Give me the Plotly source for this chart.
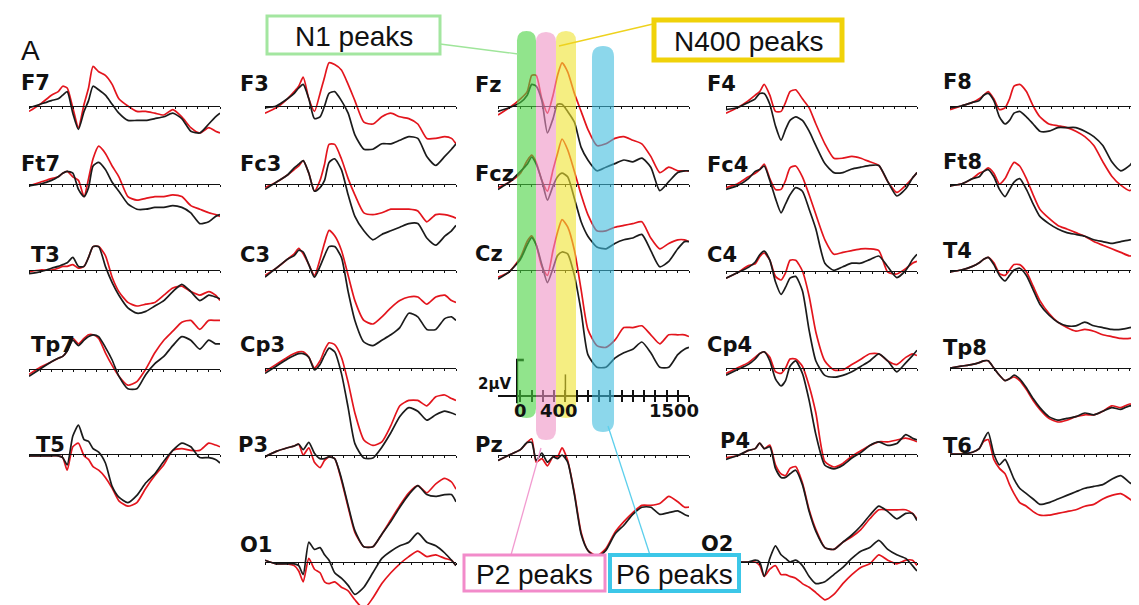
import plotly.graph_objects as go

W, H = 1139, 605
UV_PX = 18.0      # pixels per microvolt (2 uV scale bar = 36 px)
PANEL_W = 191     # pixels spanned by -200 .. 1500 ms
RED = "#e3151d"
BLACK = "#1b1b1b"

# ---------------- data (uV, negative plotted up) ----------------
TIME_MS = [-200, -100, 0, 60, 100, 140, 190, 240, 290, 330, 370, 420, 480, 540,
           600, 680, 760, 840, 920, 1000, 1080, 1160, 1240, 1320, 1400, 1460, 1500]

F7_black = [0.1,-0.1,-0.3,-0.4,-0.6,-0.8,0.4,1.3,0.3,-0.3,-1.1,-0.9,-0.6,-0.1,0.4,0.8,0.8,0.8,0.7,0.6,0.4,0.7,1.4,1.5,1.0,0.6,0.4]
F7_red = [0.3,-0.1,-0.6,-0.8,-1.1,-1.0,0.1,1.2,-0.1,-1.0,-2.2,-1.9,-1.7,-1.2,-0.4,0.0,0.3,0.3,0.4,0.5,0.2,0.6,1.2,1.5,1.2,1.4,1.5]
Ft7_black = [0.1,0,-0.2,-0.4,-0.6,-0.7,-0.6,0.3,0.7,0.2,-1.0,-1.2,-0.8,-0.1,0.4,1.1,1.4,1.4,1.3,1.3,1.2,1.3,1.6,2.2,2.1,1.8,1.7]
Ft7_red = [0.1,-0.1,-0.3,-0.4,-0.6,-0.7,-0.4,-0.2,0.7,-0.3,-1.4,-2.1,-1.7,-1.0,-0.4,0.7,0.9,0.8,0.7,0.7,0.6,0.7,1.2,1.4,1.6,1.7,1.8]
T3_black = [0.2,0.1,-0.1,-0.2,-0.3,-0.4,-0.7,-0.2,-0.2,-0.7,-1.3,-1.3,-0.2,0.7,1.4,2.1,2.4,2.3,2.0,1.7,1.2,0.8,1.2,1.7,1.4,1.5,1.6]
T3_red = [0.1,0,0,-0.1,-0.2,-0.2,-0.3,-0.1,-0.2,-0.7,-1.3,-1.3,-0.8,0.4,1.2,1.8,2.0,1.9,1.8,1.4,1.0,0.9,1.2,1.4,1.2,1.4,1.7]
Tp7_black = [0.4,0,-0.4,-0.6,-0.7,-1.0,-1.6,-1.3,-1.6,-1.8,-1.9,-1.8,-1.2,-0.5,0.4,1.1,1.1,0.3,-0.3,-0.7,-1.3,-1.8,-1.6,-1.1,-1.6,-1.4,-1.4]
Tp7_red = [0.3,-0.1,-0.4,-0.6,-0.7,-1.0,-1.7,-1.4,-1.7,-1.9,-1.9,-1.7,-0.9,-0.2,0.4,0.9,0.7,0,-0.9,-1.6,-2.1,-2.6,-2.7,-2.2,-2.7,-2.7,-2.7]
T5_black = [0.1,0.1,0.1,0.1,0.2,0.6,-1.0,-1.6,-0.8,-0.7,-0.3,-0.1,0.5,1.8,2.4,2.7,2.3,1.6,1.1,0.4,-0.2,-0.6,-0.4,0.2,0.2,0.3,0.5]
T5_red = [0.1,0.1,0.1,0.1,0.2,0.9,-0.4,-0.6,0.1,0.3,0.7,0.9,1.3,1.9,2.6,2.9,2.7,1.9,1.2,0.6,-0.2,-0.3,-0.2,-0.2,-0.6,-0.5,-0.4]

F3_black = [0.1,0,-0.4,-0.7,-1.0,-1.2,-0.4,0.7,0.6,0,-0.7,-0.8,-0.3,0.4,1.6,2.4,2.4,2.1,2.1,1.9,1.7,1.8,2.8,3.3,2.8,2.4,2.1]
F3_red = [0.4,0.1,-0.4,-0.8,-1.1,-1.6,-0.4,0.3,-0.7,-1.6,-2.4,-2.3,-2.0,-1.2,-0.3,0.9,1.0,0.6,0.4,0.6,0.7,1.0,1.8,1.8,1.7,1.8,2.1]
Fc3_black = [0.3,-0.1,-0.5,-0.9,-1.1,-1.3,-0.6,0.4,0.2,-0.2,-1.2,-1.4,-0.8,0.6,1.8,2.6,3.1,2.8,2.6,2.4,2.2,2.2,3.0,3.4,2.9,2.6,2.3]
Fc3_red = [0.2,-0.1,-0.5,-0.8,-1.0,-1.3,-0.6,0.4,-0.2,-1.1,-2.2,-2.2,-1.4,-0.3,0.6,1.6,1.7,1.6,1.4,1.4,1.4,1.5,2.1,1.7,1.7,1.8,1.9]
C3_black = [0.4,-0.1,-0.6,-0.8,-1.1,-1.0,-0.3,0.4,-0.2,-0.8,-1.3,-1.3,-0.7,1.2,2.8,4.0,4.2,3.9,3.6,3.2,2.4,2.6,3.3,3.3,2.7,2.6,2.8]
C3_red = [0.3,-0.1,-0.6,-0.9,-1.2,-0.9,-0.3,0.3,-0.6,-1.5,-2.2,-1.9,-1.1,0.3,1.7,2.8,3.0,2.6,2.1,1.7,1.5,1.5,1.9,1.5,1.4,1.7,1.8]
Cp3_black = [0.3,-0.1,-0.5,-0.7,-0.8,-0.8,-0.6,0.1,-0.2,-0.7,-1.1,-0.9,0.3,2.2,4.2,5.0,5.0,4.4,3.6,2.7,2.2,2.4,2.9,2.6,2.4,2.5,2.6]
Cp3_red = [0.2,-0.2,-0.6,-0.8,-0.9,-0.9,-0.6,0,-0.4,-1.0,-1.4,-1.3,-0.6,0.8,2.5,4.0,4.3,4.1,3.2,2.1,1.8,1.8,2.1,1.6,1.5,1.7,1.8]
P3_black = [0.1,-0.2,-0.4,-0.5,-0.6,-0.3,-0.7,-0.1,0.2,0.2,0.1,0.2,1.3,2.8,4.2,5.1,5.1,4.4,3.7,2.9,2.2,1.7,2.2,2.3,2.2,2.2,2.6]
P3_red = [0.1,-0.2,-0.4,-0.5,-0.6,0,-0.4,0.4,0.7,0.3,0.1,0.2,1.4,2.9,4.3,5.1,5.1,4.4,3.6,2.8,2.1,1.7,2.1,1.6,1.3,1.5,1.9]
O1_black = [-0.1,0.1,0.1,0.1,0.2,0.7,-1.1,-0.7,-0.8,-0.4,-0.1,0.6,0.9,1.3,1.8,1.4,0.6,-0.2,-0.6,-0.9,-1.1,-1.6,-1.1,-0.9,-0.5,-0.1,0.2]
O1_red = [-0.1,0.1,0.1,0.2,0.5,1.1,-0.2,0.4,0.6,1.1,1.2,1.1,1.4,1.6,2.1,2.6,2.0,1.2,0.6,0.1,-0.3,-0.6,-0.3,-0.4,-0.2,-0.1,0.2]

Fz_black = [0.3,0.1,-0.2,-0.6,-1.2,-1.1,-0.3,1.5,0.7,-0.1,-0.1,0.3,0.9,2.3,3.0,3.6,3.4,3.2,3.0,3.1,2.9,3.4,4.7,4.2,3.7,3.6,3.6]
Fz_red = [0.5,0.1,-0.4,-0.8,-1.7,-1.7,-0.4,0.4,-0.6,-1.7,-2.4,-1.9,-0.7,0.3,1.3,2.2,2.1,1.8,1.7,1.9,2.1,2.8,3.7,3.4,3.6,3.6,3.6]
Fcz_black = [0.3,-0.1,-0.7,-1.1,-1.5,-1.1,-0.2,0.9,0.1,-0.4,-0.6,-0.4,0.8,2.1,2.9,3.5,3.6,3.3,3.1,3.0,2.8,3.7,4.6,4.3,3.6,3.2,3.2]
Fcz_red = [0.2,-0.1,-0.6,-1.3,-1.6,-1.2,-0.2,0.4,-0.8,-1.7,-2.5,-1.9,-0.7,0.6,1.7,2.6,2.6,2.4,2.3,2.2,2.1,3.0,3.6,3.3,3.1,3.1,3.2]
Cz_black = [0.5,0.1,-0.6,-1.4,-1.8,-1.4,-0.3,0.7,-0.1,-0.8,-1.0,-0.9,0.3,2.3,4.7,5.4,5.4,4.9,4.6,4.4,4.0,4.6,5.4,5.4,4.7,4.4,4.3]
Cz_red = [0.4,0.1,-0.7,-1.6,-1.9,-1.4,-0.2,0.3,-1.1,-2.1,-2.8,-2.4,-1.1,1.1,3.3,4.2,4.3,3.9,3.2,3.2,3.1,3.6,4.1,3.6,3.6,3.6,3.7]
Pz_black = [0.3,0,-0.3,-0.7,-0.7,0.3,-0.1,0.4,0.1,0.2,0,0.4,2.2,4.4,5.3,5.7,5.3,4.4,3.9,3.3,2.9,2.9,3.3,3.2,3.1,3.3,3.4]
Pz_red = [0.3,0,-0.3,-0.7,-0.9,0.4,0.2,0.6,0.1,0.1,-0.4,0.3,2.1,4.3,5.3,5.6,5.2,4.3,3.7,3.2,2.8,2.8,2.7,2.3,2.6,2.9,2.9]

F4_black = [0.2,0.1,-0.2,-0.4,-0.7,-0.7,-0.1,1.1,1.9,1.3,0.8,0.6,0.8,1.4,2.2,3.2,3.7,3.7,3.5,3.4,3.3,3.3,4.2,5.0,4.6,4.0,3.7]
F4_red = [0.4,0.1,-0.3,-0.6,-0.8,-1.2,-0.6,0.3,0.3,-0.2,-0.8,-0.9,-0.4,0.1,1.0,2.1,2.9,2.9,2.8,2.9,3.1,3.3,4.2,4.8,4.4,4.0,3.7]
Fc4_black = [0.3,0.1,-0.3,-0.7,-0.8,-1.0,-0.2,0.8,1.6,1.1,0.6,0.2,0.4,1.4,2.5,4.4,4.8,4.6,4.4,4.4,4.2,4.0,4.6,5.2,4.8,4.2,3.9]
Fc4_red = [0.2,0,-0.4,-0.6,-0.8,-1.1,-0.3,0.3,0.3,-0.2,-0.9,-1.0,-0.4,0.6,1.7,3.1,3.9,3.8,3.7,3.6,3.6,3.7,4.9,5.0,4.7,4.4,4.3]
C4_black = [0.4,0.1,-0.2,-0.5,-0.9,-1.1,-0.6,0.6,1.3,0.9,0.4,0.3,1.1,3.3,5.0,5.8,5.9,5.8,5.6,5.3,5.0,4.6,5.0,5.6,5.1,4.7,4.4]
C4_red = [0.4,0.1,-0.3,-0.4,-0.8,-1.0,-0.6,0.3,0.5,0.1,-0.6,-0.6,0,1.4,3.4,5.0,5.5,5.5,5.2,4.9,4.6,4.6,5.0,5.2,4.8,4.6,4.7]
Cp4_black = [0.4,0.1,-0.2,-0.5,-0.8,-0.9,-0.4,0.6,1.0,0.7,-0.1,-0.4,0.3,1.8,3.7,5.4,5.6,5.4,5.0,4.7,4.3,4.1,4.3,4.2,3.7,3.9,4.0]
Cp4_red = [0.3,0,-0.3,-0.6,-0.8,-0.9,-0.6,0.2,0.3,0,-0.5,-0.5,-0.1,1.0,2.5,5.2,5.5,5.3,4.9,4.6,4.3,4.1,4.1,4.0,3.9,4.0,4.1]
P4_black = [0.3,0.1,-0.2,-0.3,-0.6,-0.3,-0.4,0.8,1.3,1.3,1.1,0.9,1.7,3.2,4.3,5.2,5.3,4.9,4.5,4.0,3.4,2.9,3.2,3.6,3.3,3.3,3.7]
P4_red = [0.2,0.1,-0.2,-0.3,-0.6,-0.3,-0.5,0.6,1.1,1.2,0.8,0.7,1.6,3.1,4.2,5.2,5.3,4.9,4.6,4.2,3.6,3.1,3.1,3.1,3.1,3.3,3.6]
O2_black = [0,0,0,-0.1,0,0.8,-0.2,-0.9,-0.4,-0.2,0,-0.1,0.2,0.8,1.2,1.1,0.7,0.3,-0.2,-0.6,-0.8,-1.2,-0.7,-0.4,-0.2,0.2,0.5]
O2_red = [0,0,0,0,0.2,0.8,0.4,0.2,0.7,0.7,0.8,0.9,1.2,1.4,1.7,2.1,1.8,1.2,0.7,0.3,0.1,-0.4,-0.1,0.1,-0.1,-0.1,0.2]

F8_black = [0.1,0,-0.2,-0.3,-0.6,-0.7,-0.3,0.6,1.0,0.8,0.4,0.3,0.6,1.0,1.4,1.4,1.2,1.2,1.2,1.4,1.7,2.2,3.1,3.6,3.3,2.8,2.5]
F8_red = [0.2,0,-0.2,-0.4,-0.6,-0.8,-0.4,0.2,0.1,-0.4,-1.1,-1.2,-0.8,0,0.6,1.0,1.1,1.2,1.4,1.7,2.2,3.1,3.9,4.4,4.7,4.4,4.4]
Ft8_black = [0.1,0,-0.3,-0.4,-0.7,-0.8,-0.4,0.3,0.7,0.3,-0.1,-0.3,0.3,1.1,1.8,2.2,2.5,2.7,2.8,2.9,3.1,3.2,3.3,3.2,3.1,3.1,3.1]
Ft8_red = [0.1,0,-0.3,-0.6,-0.7,-0.9,-0.6,0,-0.3,-0.8,-1.2,-1.0,-0.3,0.6,1.4,1.9,2.3,2.5,2.7,2.9,3.2,3.4,3.6,3.8,4.0,3.9,3.8]
T4_black = [0.1,0,-0.2,-0.4,-0.6,-0.7,-0.3,0.3,0.6,0.3,0,-0.1,0.3,1.1,1.9,2.5,2.9,3.1,3.1,2.9,3.1,3.2,3.3,3.3,3.2,3.1,3.1]
T4_red = [0.1,0,-0.2,-0.4,-0.6,-0.7,-0.4,0.2,0.3,0,-0.3,-0.3,0.1,0.9,1.7,2.4,2.9,3.2,3.4,3.3,3.4,3.6,3.7,3.8,3.8,3.7,3.7]
Tp8_black = [0,-0.1,-0.2,-0.3,-0.4,-0.4,0,0.4,0.7,0.6,0.4,0.6,1.1,1.7,2.2,2.7,2.9,2.8,2.7,2.5,2.6,2.4,2.2,2.3,2.1,2.2,2.2]
Tp8_red = [0,-0.1,-0.2,-0.3,-0.4,-0.4,0,0.4,0.7,0.6,0.5,0.7,1.2,1.8,2.3,2.8,3.0,2.9,2.7,2.6,2.6,2.4,2.1,2.2,2.0,2.1,2.2]
T6_black = [0,0,-0.1,-0.3,-0.8,-1.2,0,0.6,0.3,0.8,1.4,1.9,2.2,2.5,2.8,2.7,2.5,2.3,2.1,1.9,1.8,1.7,1.4,1.2,1.6,1.8,1.7]
T6_red = [0,0,-0.1,-0.3,-0.7,-0.8,0.3,0.8,1.1,1.7,2.2,2.7,2.9,3.2,3.4,3.4,3.3,3.2,3.1,2.9,2.8,2.5,2.3,2.2,2.5,2.8,2.8]

WAVES = {
    "F7": (F7_black, F7_red), "Ft7": (Ft7_black, Ft7_red), "T3": (T3_black, T3_red),
    "Tp7": (Tp7_black, Tp7_red), "T5": (T5_black, T5_red),
    "F3": (F3_black, F3_red), "Fc3": (Fc3_black, Fc3_red), "C3": (C3_black, C3_red),
    "Cp3": (Cp3_black, Cp3_red), "P3": (P3_black, P3_red), "O1": (O1_black, O1_red),
    "Fz": (Fz_black, Fz_red), "Fcz": (Fcz_black, Fcz_red), "Cz": (Cz_black, Cz_red),
    "Pz": (Pz_black, Pz_red),
    "F4": (F4_black, F4_red), "Fc4": (Fc4_black, Fc4_red), "C4": (C4_black, C4_red),
    "Cp4": (Cp4_black, Cp4_red), "P4": (P4_black, P4_red), "O2": (O2_black, O2_red),
    "F8": (F8_black, F8_red), "Ft8": (Ft8_black, Ft8_red), "T4": (T4_black, T4_red),
    "Tp8": (Tp8_black, Tp8_red), "T6": (T6_black, T6_red),
}

SCALE_TICKS_MS = [0, 100, 200, 300, 400, 500, 600, 700, 800, 900, 1000, 1100, 1200, 1300, 1400, 1500]
SCALE_LABELS = ["0", "400", "1500"]
SCALE_BAR_UV = 2

# ---------------- layout geometry (pixels) ----------------
# name, panel left x, baseline y, label left x, label centre y
PANELS = [
    ("F7", 21, 98, 11, 75), ("Ft7", 21, 176, 11, 156), ("T3", 21, 262, 21, 247),
    ("Tp7", 21, 361, 21, 337), ("T5", 21, 446, 26, 437),
    ("F3", 257, 98, 230, 76), ("Fc3", 257, 176, 230, 156), ("C3", 257, 262, 230, 247),
    ("Cp3", 257, 360, 230, 337), ("P3", 257, 447, 228, 437), ("O1", 257, 554, 230, 537),
    ("Fz", 490, 98, 465, 77), ("Fcz", 490, 176, 465, 166), ("Cz", 490, 262, 465, 246),
    ("Pz", 490, 447, 465, 437),
    ("F4", 718, 98, 697, 76), ("Fc4", 718, 176, 697, 157), ("C4", 718, 263, 697, 247),
    ("Cp4", 718, 360, 697, 337), ("P4", 718, 446, 710, 433), ("O2", 718, 554, 691, 536),
    ("F8", 942, 98, 933, 74), ("Ft8", 942, 176, 933, 154), ("T4", 942, 262, 933, 243),
    ("Tp8", 942, 360, 933, 340), ("T6", 942, 446, 933, 438),
]
SCALE_PANEL = (490, 388)


def px(x):
    return x / W


def py(y):
    return 1 - y / H


fig = go.Figure()
layout = {}


def add_panel(idx, x0, y0, show_line=True):
    top = max(0, y0 - 135)
    bot = min(H, y0 + 135)
    xa = "xaxis" if idx == 1 else f"xaxis{idx}"
    ya = "yaxis" if idx == 1 else f"yaxis{idx}"
    layout[xa] = dict(domain=[px(x0), px(x0 + PANEL_W)], range=[-200, 1500],
                      anchor="free", position=py(y0), showline=show_line,
                      linecolor="#111", linewidth=1.4, ticks="outside" if show_line else "",
                      ticklen=2, tickwidth=1.2, tickcolor="#111", dtick=100, tick0=0,
                      showticklabels=False, showgrid=False, zeroline=False)
    layout[ya] = dict(domain=[py(bot), py(top)],
                      range=[(bot - y0) / UV_PX, -(y0 - top) / UV_PX],
                      visible=False, showgrid=False, zeroline=False, anchor="free", position=0)
    return ("x" if idx == 1 else f"x{idx}"), ("y" if idx == 1 else f"y{idx}")


annotations = []
for i, (name, x0, y0, lx, ly) in enumerate(PANELS, start=1):
    xr, yr = add_panel(i, x0, y0)
    blk, red = WAVES[name]
    fig.add_trace(go.Scatter(x=TIME_MS, y=red, mode="lines", xaxis=xr, yaxis=yr,
                             line=dict(color=RED, width=1.7, shape="spline", smoothing=0.6),
                             hoverinfo="skip", showlegend=False))
    fig.add_trace(go.Scatter(x=TIME_MS, y=blk, mode="lines", xaxis=xr, yaxis=yr,
                             line=dict(color=BLACK, width=1.7, shape="spline", smoothing=0.6),
                             hoverinfo="skip", showlegend=False))
    annotations.append(dict(x=px(lx), y=py(ly), xref="paper", yref="paper", text=f"<b>{name}</b>",
                            showarrow=False, xanchor="left", yanchor="middle",
                            font=dict(family="DejaVu Sans", size=21, color="#111")))

# time / amplitude scale in the centre column
si = len(PANELS) + 1
sx, sy = add_panel(si, *SCALE_PANEL)
layout[f"xaxis{si}"].update(tickmode="array", tickvals=SCALE_TICKS_MS, ticklen=5, tickwidth=1.5,
                             linewidth=1.6)
layout[f"xaxis{si+1}"] = dict(layout[f"xaxis{si}"])
layout[f"xaxis{si+1}"].update(ticks="inside", overlaying=sx)
# amplitude bar
fig.add_trace(go.Scatter(x=[-30, -30], y=[0.4, -SCALE_BAR_UV], mode="lines", xaxis=sx, yaxis=sy,
                         line=dict(color="#111", width=2.2), hoverinfo="skip", showlegend=False))
fig.add_trace(go.Scatter(x=[-40, 30], y=[-SCALE_BAR_UV, -SCALE_BAR_UV], mode="lines", xaxis=sx, yaxis=sy,
                         line=dict(color="#111", width=2.6), hoverinfo="skip", showlegend=False))
fig.add_trace(go.Scatter(x=[400, 400], y=[0.2, -1.2], mode="lines", xaxis=f"x{si+1}", yaxis=sy,
                         line=dict(color="#111", width=1.5), hoverinfo="skip", showlegend=False))
for txt, xpix in zip(SCALE_LABELS, [512, 551, 666]):
    annotations.append(dict(x=px(xpix), y=py(402), xref="paper", yref="paper", text=f"<b>{txt}</b>",
                            showarrow=False, xanchor="center", yanchor="middle",
                            font=dict(family="DejaVu Sans", size=18, color="#111")))
annotations.append(dict(x=px(486), y=py(376), xref="paper", yref="paper", text="<b>2µV</b>",
                        showarrow=False, xanchor="center", yanchor="middle",
                        font=dict(family="DejaVu Sans", size=15, color="#111")))
annotations.append(dict(x=px(11), y=py(42), xref="paper", yref="paper", text="A",
                        showarrow=False, xanchor="left", yanchor="middle",
                        font=dict(family="Liberation Sans", size=28, color="#111")))

# ---------------- highlight bands, connectors, boxes ----------------
BANDS = [  # left, right, top, bottom (px), colour
    (509, 528, 23, 410, "rgba(72,210,63,0.6)"),
    (528, 548, 24, 432, "rgba(238,147,197,0.6)"),
    (548, 568, 23, 410, "rgba(238,227,47,0.6)"),
    (584, 606, 38, 424, "rgba(63,188,222,0.6)"),
]
shapes = []
for xl, xr_, yt, yb, col in BANDS:
    r = (xr_ - xl) / 2
    xc = (xl + xr_) / 2
    pts = [("M", [(xl, yt + r)]), ("Q", [(xl, yt), (xc, yt)]), ("Q", [(xr_, yt), (xr_, yt + r)]),
           ("L", [(xr_, yb - r)]), ("Q", [(xr_, yb), (xc, yb)]), ("Q", [(xl, yb), (xl, yb - r)])]
    path = " ".join(cmd + " " + " ".join(f"{px(a):.5f},{py(b):.5f}" for a, b in p) for cmd, p in pts) + " Z"
    shapes.append(dict(type="path", path=path, xref="paper", yref="paper", fillcolor=col,
                       line=dict(width=0), layer="above"))

CONNECTORS = [
    ((432, 36), (510, 46), "#9fe59a"),
    ((645, 16), (551, 38), "#eed21e"),
    ((533, 440), (503, 547), "#f29bd0"),
    ((600, 418), (642, 547), "#5ccfec"),
]
for (x1, y1), (x2, y2), col in CONNECTORS:
    shapes.append(dict(type="line", x0=px(x1), y0=py(y1), x1=px(x2), y1=py(y2), xref="paper",
                       yref="paper", line=dict(color=col, width=1.3), layer="above"))

BOXES = [  # text, x0, y0, x1, y1, colour, border width
    ("N1 peaks", 259, 8, 432, 46, "#a3e6a0", 3),
    ("N400 peaks", 646, 12, 834, 52, "#f0d20a", 5),
    ("P2 peaks", 456, 547, 597, 583, "#f28bca", 3),
    ("P6 peaks", 602, 547, 731, 583, "#3cc7e8", 4),
]
for txt, x0, y0, x1, y1, col, bw in BOXES:
    shapes.append(dict(type="rect", x0=px(x0), y0=py(y1), x1=px(x1), y1=py(y0), xref="paper",
                       yref="paper", fillcolor="white", line=dict(color=col, width=bw), layer="above"))
    annotations.append(dict(x=px((x0 + x1) / 2), y=py((y0 + y1) / 2 + 1), xref="paper", yref="paper",
                            text=txt, showarrow=False, xanchor="center", yanchor="middle",
                            font=dict(family="Liberation Sans", size=28, color="#111")))

fig.update_layout(width=W, height=H, margin=dict(l=0, r=0, t=0, b=0),
                  paper_bgcolor="white", plot_bgcolor="rgba(0,0,0,0)",
                  showlegend=False, shapes=shapes, annotations=annotations, **layout)
fig.write_html("out.html")
